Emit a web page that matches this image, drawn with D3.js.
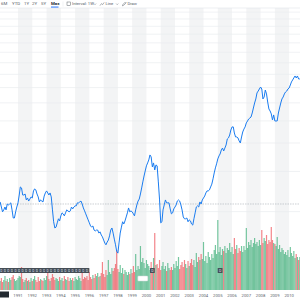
<!DOCTYPE html>
<html>
<head>
<meta charset="utf-8">
<script src="https://cdn.jsdelivr.net/npm/d3@7/dist/d3.min.js"></script>
<style>
  body { margin: 0; background: #fff; }
  svg { display: block; font-family: Roboto, "Noto Sans", sans-serif; }
</style>
</head>
<body>
<script>
// monthly closes, first one is Oct 1989
var firstMonth = "1989-10";
var closes = [
  441, 419, 399, 407, 419, 407, 432, 428, 432, 437, 407, 375,
  375, 399, 419, 437, 473, 513, 508, 473, 473, 478, 450, 459,
  445, 454, 464, 459, 493, 503, 498, 478, 464, 441, 450, 445,
  441, 468, 483, 493, 483, 473, 483, 464, 407, 361, 339, 342,
  357, 372, 364, 383, 395, 391, 383, 395, 407, 403, 399, 403,
  419, 411, 419, 424, 424, 437, 437, 441, 445, 432, 415, 403,
  391, 379, 368, 357, 346, 342, 346, 332, 329, 332, 332, 322,
  326, 316, 310, 300, 291, 286, 294, 300, 313, 332, 339, 322,
  303, 286, 268, 263, 294, 322, 342, 361, 353, 364, 379, 395,
  415, 399, 403, 399, 391, 383, 407, 428, 445, 454, 478, 508,
  540, 573, 603, 635, 654, 674, 709, 695, 628, 654, 609, 641,
  635, 540, 454, 357, 361, 407, 428, 450, 437, 437, 437, 411,
  391, 395, 411, 419, 428, 445, 450, 445, 428, 407, 379, 372,
  372, 375, 361, 368, 364, 353, 349, 372, 395, 419, 424, 419,
  441, 432, 450, 459, 468, 483, 493, 493, 498, 513, 528, 557,
  591, 622, 648, 681, 702, 716, 745, 760, 738, 760, 784, 833,
  842, 867, 912, 941, 941, 885, 850, 850, 842, 817, 800, 850,
  894, 921, 941, 980, 999, 1019, 1029, 1040, 1083, 1139, 1198, 1248,
  1326, 1352, 1380, 1408, 1380, 1248, 1273, 1366, 1313, 1210, 1128, 1105,
  1073, 1009, 1062, 999, 999, 999, 1083, 1139, 1198, 1248, 1273, 1313,
  1339, 1352, 1380, 1394, 1437, 1482, 1512, 1543, 1574, 1543, 1574, 1527, 1527
];

// monthly volume (millions)
var volumes = [
  9, 12, 8, 10, 14, 9, 11, 8, 12, 10, 13, 15,
  11, 9, 10, 12, 14, 13, 23, 11, 8, 10, 12, 9,
  10, 8, 12, 9, 11, 14, 10, 8, 13, 9, 11, 10,
  9, 12, 10, 14, 20, 11, 9, 12, 16, 13, 10, 12,
  11, 9, 13, 10, 12, 9, 14, 11, 10, 13, 9, 12,
  10, 12, 9, 13, 11, 10, 14, 12, 9, 19, 11, 13,
  12, 14, 10, 18, 13, 11, 15, 12, 16, 14, 17, 13,
  14, 17, 28, 16, 13, 20, 15, 30, 18, 16, 22, 19,
  22, 26, 40, 21, 18, 25, 17, 22, 16, 20, 18, 15,
  18, 16, 21, 17, 24, 18, 36, 20, 24, 21, 44, 28,
  32, 27, 22, 30, 26, 24, 20, 28, 22, 32, 57, 25,
  26, 22, 30, 20, 24, 28, 21, 24, 19, 27, 22, 20,
  23, 20, 26, 22, 29, 24, 33, 21, 25, 28, 23, 30,
  26, 22, 29, 24, 27, 31, 25, 30, 23, 37, 28, 33,
  30, 36, 31, 48, 29, 34, 27, 38, 33, 30, 36, 32,
  40, 45, 36, 70, 38, 43, 35, 41, 39, 44, 37, 42,
  40, 47, 38, 43, 36, 52, 41, 45, 37, 42, 39, 44,
  38, 44, 40, 62, 42, 48, 45, 50, 43, 47, 52, 46,
  48, 44, 50, 45, 60, 47, 52, 49, 55, 46, 50, 48,
  63, 50, 47, 46, 44, 53, 41, 45, 38, 42, 40, 36,
  38, 35, 40, 33, 43, 37, 34, 39, 32, 36, 33, 30, 33
];

var dividendDates = [
  "1989-11", "1990-02", "1990-05", "1990-08", "1990-11", "1991-02", "1991-05",
  "1991-08", "1991-11", "1992-02", "1992-05", "1992-08", "1992-11", "1993-02",
  "1993-05", "1993-08", "1993-11", "1994-02", "1994-05", "1994-08", "1994-11",
  "1995-02", "1995-05", "1995-08", "1995-11", "2000-06", "2005-03"
];
var splitDates = ["1999-10"];

var yearLabels = [1991, 1992, 1993, 1994, 1995, 1996, 1997, 1998, 1999, 2000,
                  2001, 2002, 2003, 2004, 2005, 2006, 2007, 2008, 2009, 2010];
var shadedYears = [1991, 1993, 1995, 1997, 1999, 2001, 2003, 2005, 2007, 2009];
var gridValues = [400, 600, 800, 1000, 1200, 1400, 1600, 1800, 2000,
                  2200, 2400, 2600, 2800, 3000];
var refClose = 432;
var rangeButtons = ["6M", "YTD", "1Y", "2Y", "5Y", "Max"];

var width = 300, height = 300;
var parseMonth = d3.utcParse("%Y-%m");
var start = parseMonth(firstMonth);

var data = closes.map(function(c, i) {
  return {
    date: d3.utcMonth.offset(start, i),
    close: c,
    volume: volumes[i],
    up: i === 0 ? true : c >= closes[i - 1]
  };
});

var svg = d3.select("body").append("svg")
  .attr("width", width)
  .attr("height", height);

var x = d3.scaleUtc()
  .domain([new Date(Date.UTC(1989, 8, 27)), new Date(Date.UTC(2010, 9, 6))])
  .range([0, width]);

var y = d3.scaleLog()
  .domain([181.2, 3391])
  .range([290, 0]);

var yVol = d3.scaleLinear()
  .domain([0, 100])
  .range([290, 190]);

var plotTop = 8, plotBottom = 290;

// alternating year bands
svg.append("g").selectAll("rect")
  .data(shadedYears)
  .enter().append("rect")
    .attr("x", function(d) { return x(new Date(Date.UTC(d, 0, 1))); })
    .attr("y", plotTop)
    .attr("width", function(d) { return x(new Date(Date.UTC(d + 1, 0, 1))) - x(new Date(Date.UTC(d, 0, 1))); })
    .attr("height", plotBottom - plotTop)
    .style("fill", "#f3f4f5");

// horizontal grid
svg.append("g").selectAll("line")
  .data(gridValues)
  .enter().append("line")
    .attr("x1", 0).attr("x2", width)
    .attr("y1", function(d) { return y(d); })
    .attr("y2", function(d) { return y(d); })
    .style("stroke", "#e9ecef")
    .style("stroke-width", 0.7);

// reference close
svg.append("line")
  .attr("x1", 0).attr("x2", width)
  .attr("y1", y(refClose)).attr("y2", y(refClose))
  .style("stroke", "#a9b0b7")
  .style("stroke-width", 0.6)
  .style("stroke-dasharray", "1.5,1");

// volume bars
svg.append("g").selectAll("rect")
  .data(data)
  .enter().append("rect")
    .attr("x", function(d) { return x(d.date) - 0.6; })
    .attr("y", function(d) { return yVol(d.volume); })
    .attr("width", 1.2)
    .attr("height", function(d) { return yVol(0) - yVol(d.volume); })
    .style("fill", function(d) { return d.up ? "#22a565" : "#ec3a42"; })
    .style("opacity", 0.62);

// price line
var line = d3.line()
  .x(function(d) { return x(d.date); })
  .y(function(d) { return y(d.close); });

svg.append("path")
  .datum(data)
  .attr("d", line)
  .style("fill", "none")
  .style("stroke", "#1a7cf0")
  .style("stroke-width", 1)
  .style("stroke-linejoin", "round");

// dividend markers
var markers = svg.append("g").selectAll("g")
  .data(dividendDates)
  .enter().append("g")
    .attr("transform", function(d) { return "translate(" + x(parseMonth(d)) + ",268)"; });
markers.append("rect")
  .attr("x", -2.4).attr("width", 4.8).attr("height", 5)
  .attr("rx", 0.6)
  .style("fill", "#464e56");
markers.append("text")
  .attr("y", 4)
  .attr("text-anchor", "middle")
  .style("font-size", "3.6px")
  .style("fill", "#d9dde1")
  .text("D");

// split marker
svg.append("g").selectAll("rect")
  .data(splitDates)
  .enter().append("rect")
    .attr("x", function(d) { return x(parseMonth(d)) - 5; })
    .attr("y", 276)
    .attr("width", 10).attr("height", 5)
    .attr("rx", 0.8)
    .style("fill", "#fff")
    .style("stroke", "#cfd4d9")
    .style("stroke-width", 0.5);

// x axis labels
svg.append("rect")
  .attr("x", 0).attr("y", 291.5).attr("width", 9).attr("height", 6)
  .style("fill", "#232a31");

svg.append("g").selectAll("text")
  .data(yearLabels)
  .enter().append("text")
    .attr("x", function(d) { return x(new Date(Date.UTC(d, 0, 1))); })
    .attr("y", 296.5)
    .attr("text-anchor", "middle")
    .style("font-size", "4.2px")
    .style("fill", "#5b636a")
    .text(function(d) { return d; });

// toolbar
svg.append("line")
  .attr("x1", 0).attr("x2", width).attr("y1", 8).attr("y2", 8)
  .style("stroke", "#e0e4e9").style("stroke-width", 0.6);

var btnX = [1, 12, 24, 32, 41, 51];
svg.append("g").selectAll("text")
  .data(rangeButtons)
  .enter().append("text")
    .attr("x", function(d, i) { return btnX[i]; })
    .attr("y", 5.3)
    .style("font-size", "4.4px")
    .style("font-weight", function(d) { return d === "Max" ? 700 : 400; })
    .style("fill", function(d) { return d === "Max" ? "#232a31" : "#5b636a"; })
    .text(function(d) { return d; });
svg.append("rect")
  .attr("x", 51).attr("y", 6.6).attr("width", 7.5).attr("height", 0.9)
  .style("fill", "#0f69ff");

svg.append("line")
  .attr("x1", 63).attr("x2", 63).attr("y1", 1.5).attr("y2", 6.5)
  .style("stroke", "#e0e4e9").style("stroke-width", 0.5);

var tools = svg.append("g").style("fill", "none").style("stroke", "#5b636a").style("stroke-width", 0.5);
tools.append("rect").attr("x", 67).attr("y", 2).attr("width", 3.6).attr("height", 3.6);
tools.append("path").attr("d", "M100,5.6 L101.5,3.6 L102.6,4.6 L104.2,2.4");
tools.append("path").attr("d", "M122.4,5.8 L123,4.4 L125.4,2 L126.2,2.8 L123.8,5.2 Z");
tools.append("path").attr("d", "M94,3.6 L95,4.6 L96,3.6");
tools.append("path").attr("d", "M116.2,3.6 L117.2,4.6 L118.2,3.6");

var toolLabels = [["Interval: 1W", 72], ["Line", 105.5], ["Draw", 127.5]];
svg.append("g").selectAll("text")
  .data(toolLabels)
  .enter().append("text")
    .attr("x", function(d) { return d[1]; })
    .attr("y", 5.3)
    .style("font-size", "4.2px")
    .style("fill", "#5b636a")
    .text(function(d) { return d[0]; });
</script>
</body>
</html>
